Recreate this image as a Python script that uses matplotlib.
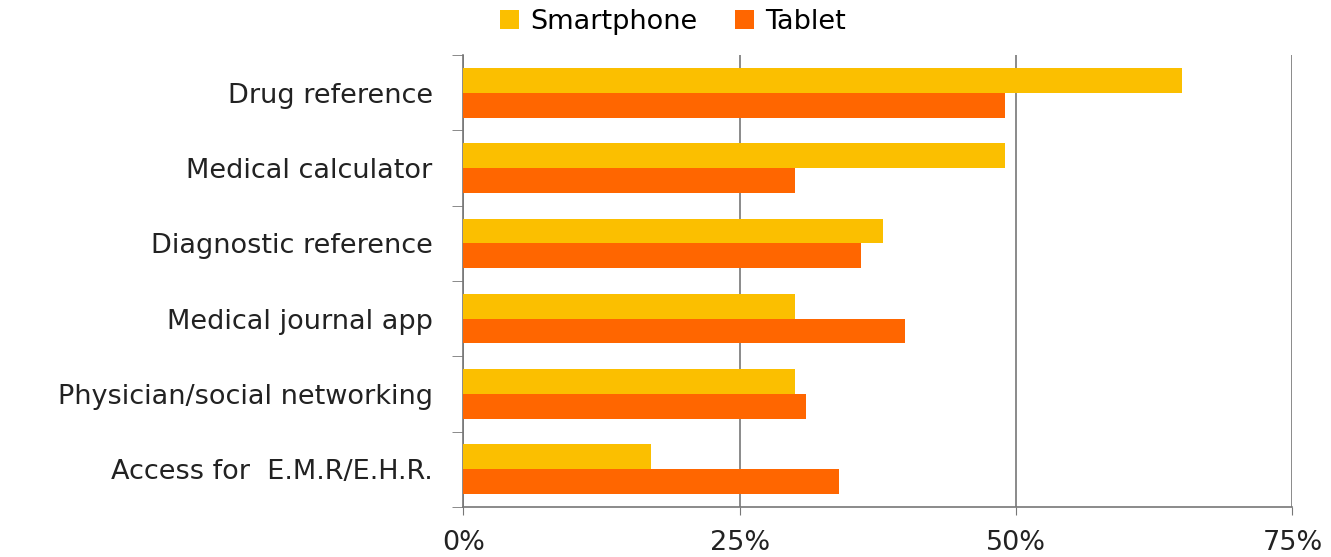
import numpy as np
import matplotlib
matplotlib.use("Agg")
import matplotlib.pyplot as plt
from matplotlib.ticker import FuncFormatter

categories = ["Drug reference", "Medical calculator", "Diagnostic reference",
              "Medical journal app", "Physician/social networking", "Access for  E.M.R/E.H.R."]
smartphone = [65, 49, 38, 30, 30, 17]
tablet = [49, 30, 36, 40, 31, 34]

plt.rcParams['font.family'] = ['DejaVu Sans']

fig = plt.figure(figsize=(13.31, 5.57), dpi=100)
ax = fig.add_axes([0.348, 0.09, 0.623, 0.811])

y = np.arange(len(categories))
h = 0.33
ax.barh(y - h / 2, smartphone, height=h, color='#FBBF00', label='Smartphone', zorder=3)
ax.barh(y + h / 2, tablet, height=h, color='#FF6600', label='Tablet', zorder=3)

ax.set_ylim(len(categories) - 0.5, -0.5)
ax.set_xlim(0, 75)
ax.set_xticks([0, 25, 50, 75])
ax.xaxis.set_major_formatter(FuncFormatter(lambda v, p: f"{v:.0f}%"))
ax.set_yticks(y)
ax.set_yticklabels(categories)
ax.set_yticks(np.arange(len(categories) + 1) - 0.5, minor=True)
ax.tick_params(axis='y', which='major', length=0, labelsize=19.5, pad=22, colors='#222222')
ax.tick_params(axis='y', which='minor', length=8, color='#777777')
ax.tick_params(axis='x', length=6, labelsize=19.5, pad=11, color='#777777', labelcolor='#222222')
ax.grid(axis='x', color='#777777', linewidth=1.2, zorder=0)

for s in ['top', 'right']:
    ax.spines[s].set_visible(False)
for s in ['left', 'bottom']:
    ax.spines[s].set_color('#777777')
    ax.spines[s].set_linewidth(1.2)

ax.legend(loc='lower center', bbox_to_anchor=(0.253, 0.99), ncol=2, frameon=False,
          fontsize=19.5, handlelength=0.7, handleheight=0.7, columnspacing=1.4, handletextpad=0.4)

fig.savefig("out.png", dpi=100)
